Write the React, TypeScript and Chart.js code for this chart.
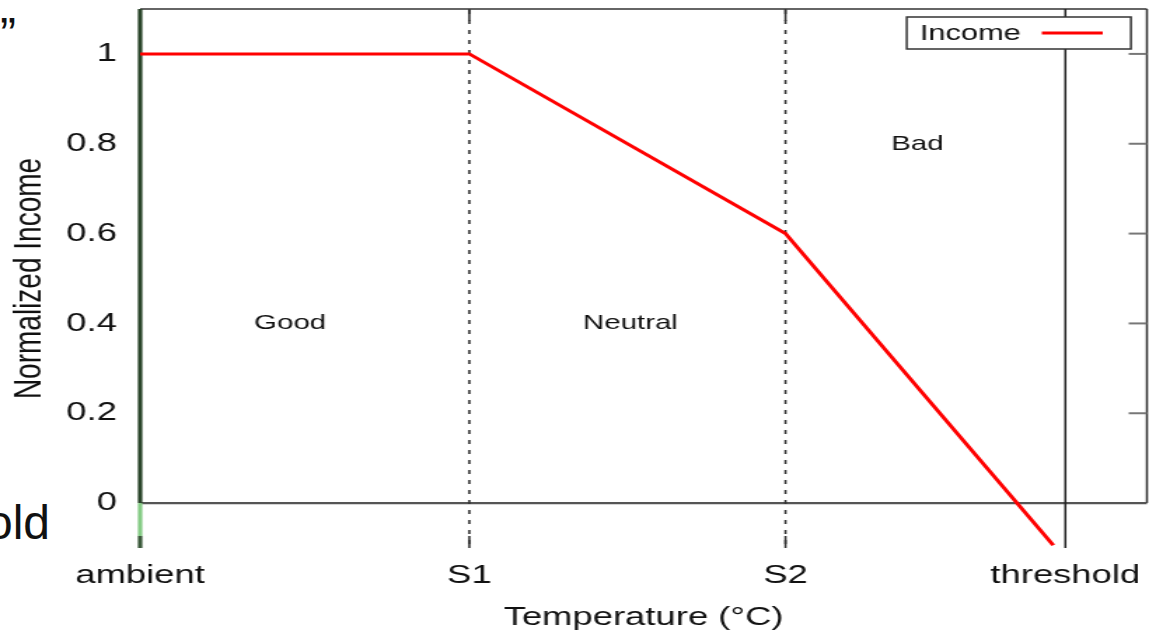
import React, { useEffect, useRef } from 'react';
import { Chart, registerables } from 'chart.js';

Chart.register(...registerables);

// Temperature zones along the x axis (relative units, ambient = 0)
const ZONE_NAMES = ['ambient', 'S1', 'S2', 'threshold'];
const ZONE_TEMPS = [0, 32.7, 64.1, 91.9];
const TEMP_MIN = 0;
const TEMP_MAX = 100;

// Normalized income curve
const INCOME_TEMPS = [0, 32.7, 64.1, 90.7];
const INCOME_VALUES = [1, 1, 0.6, -0.094];
const SERIES_LABEL = 'Income';

// Y axis
const INCOME_TICKS = [0, 0.2, 0.4, 0.6, 0.8, 1];
const INCOME_MIN = -0.1;
const INCOME_MAX = 1.1;

// Zone annotations
const REGION_NAMES = ['Good', 'Neutral', 'Bad'];
const REGION_TEMPS = [14.9, 48.7, 77.2];
const REGION_VALUES = [0.4, 0.4, 0.8];

const FONT = '"Liberation Sans", Arial, Helvetica, sans-serif';
const TEXT = '#111';

// The plot is rendered narrow and widened horizontally, giving the wide glyphs
const PAGE_W = 1149;
const PAGE_H = 633;
const CANVAS_W = 820;

function strokeLine(
  ctx: CanvasRenderingContext2D,
  x1: number, y1: number, x2: number, y2: number,
  color: string, width: number, dash: number[] = []
) {
  ctx.save();
  ctx.strokeStyle = color;
  ctx.lineWidth = width;
  ctx.setLineDash(dash);
  ctx.beginPath();
  ctx.moveTo(x1, y1);
  ctx.lineTo(x2, y2);
  ctx.stroke();
  ctx.restore();
}

const framePlugin = {
  id: 'gnuplotFrame',
  beforeDatasetsDraw(chart: any) {
    const { ctx, chartArea: a, scales } = chart;
    const x = scales.x;
    const y = scales.y;
    const yTop = y.getPixelForValue(INCOME_MAX);
    const yZero = y.getPixelForValue(0);
    const yBottom = y.getPixelForValue(INCOME_MIN);
    const tickLen = 12;

    // border: top, right (down to the zero line) and the zero axis
    strokeLine(ctx, a.left, yTop, a.right, yTop, '#333', 1.6);
    strokeLine(ctx, a.right, yTop, a.right, yZero, '#333', 1.5);
    strokeLine(ctx, a.left, yZero, a.right, yZero, '#555', 2.2);

    // mirrored y ticks on the right border
    INCOME_TICKS.forEach((v) => {
      if (v === 0) return;
      const py = y.getPixelForValue(v);
      strokeLine(ctx, a.right - 13, py, a.right, py, '#777', 2);
    });

    // zone boundaries
    ZONE_TEMPS.forEach((t, i) => {
      const px = x.getPixelForValue(t);
      if (i === 0) {
        strokeLine(ctx, px, yTop, px, yZero, '#2a452a', 3.2);
        strokeLine(ctx, px, yZero, px, yBottom - tickLen, '#86cc86', 3.2);
        strokeLine(ctx, px, yBottom - tickLen, px, yBottom, '#3b5a3b', 3.2);
      } else if (i === ZONE_TEMPS.length - 1) {
        strokeLine(ctx, px, yTop, px, yBottom, '#222', 1.5);
      } else {
        strokeLine(ctx, px, yTop + 1, px, yBottom, '#333', 1.6, [4, 6]);
        strokeLine(ctx, px, yTop, px, yTop + tickLen, '#333', 1.6);
        strokeLine(ctx, px, yBottom - tickLen, px, yBottom, '#333', 1.6);
      }
    });
  },
  afterDatasetsDraw(chart: any) {
    const { ctx, chartArea: a, scales } = chart;
    const x = scales.x;
    const y = scales.y;

    // zone names
    ctx.save();
    ctx.fillStyle = TEXT;
    ctx.font = `21px ${FONT}`;
    ctx.textAlign = 'center';
    ctx.textBaseline = 'middle';
    REGION_NAMES.forEach((name, i) => {
      ctx.fillText(name, x.getPixelForValue(REGION_TEMPS[i]), y.getPixelForValue(REGION_VALUES[i]));
    });
    ctx.restore();

    // key box in the top-right corner
    const yTop = y.getPixelForValue(INCOME_MAX);
    const boxRight = a.right - 11.4;
    const boxLeft = boxRight - 160;
    const boxTop = yTop + 8;
    const boxH = 32;
    const midY = boxTop + boxH / 2;
    ctx.save();
    ctx.fillStyle = '#fff';
    ctx.fillRect(boxLeft, boxTop, boxRight - boxLeft, boxH);
    ctx.strokeStyle = '#333';
    ctx.lineWidth = 1.5;
    ctx.strokeRect(boxLeft, boxTop, boxRight - boxLeft, boxH);
    ctx.fillStyle = TEXT;
    ctx.font = `22px ${FONT}`;
    ctx.textAlign = 'left';
    ctx.textBaseline = 'middle';
    ctx.fillText(SERIES_LABEL, boxLeft + 9.3, midY + 1);
    ctx.restore();
    strokeLine(ctx, boxLeft + 96.4, midY, boxLeft + 139.9, midY, '#ff0000', 3);
  },
};

export default function App() {
  const canvasRef = useRef<HTMLCanvasElement>(null);

  useEffect(() => {
    const canvas = canvasRef.current;
    if (!canvas) return;
    const chart = new Chart(canvas, {
      type: 'line',
      data: {
        datasets: [
          {
            label: SERIES_LABEL,
            data: INCOME_TEMPS.map((t, i) => ({ x: t, y: INCOME_VALUES[i] })),
            borderColor: '#ff0000',
            borderWidth: 3,
            pointRadius: 0,
            pointHoverRadius: 0,
            tension: 0,
            fill: false,
            clip: false as any,
          },
        ],
      },
      options: {
        animation: false,
        responsive: true,
        maintainAspectRatio: false,
        devicePixelRatio: 1,
        events: [],
        layout: { padding: { top: 9, right: 1.4, bottom: 0, left: 0 } },
        plugins: {
          legend: { display: false },
          tooltip: { enabled: false },
        },
        scales: {
          x: {
            type: 'linear',
            min: TEMP_MIN,
            max: TEMP_MAX,
            grid: { display: false, drawTicks: false },
            border: { display: false },
            afterBuildTicks: (s: any) => {
              s.ticks = ZONE_TEMPS.map((v) => ({ value: v }));
            },
            afterFit: (s: any) => {
              s.height = 85;
              s.paddingLeft = 0;
              s.paddingRight = 0;
            },
            ticks: {
              autoSkip: false,
              maxRotation: 0,
              minRotation: 0,
              padding: 12.3,
              color: TEXT,
              font: { family: FONT, size: 26 },
              callback: (v: any) => ZONE_NAMES[ZONE_TEMPS.indexOf(Number(v))] ?? '',
            },
            title: {
              display: true,
              text: 'Temperature (°C)',
              color: TEXT,
              font: { family: FONT, size: 26 },
              padding: { top: 0, bottom: 0 },
            },
          },
          y: {
            type: 'linear',
            min: INCOME_MIN,
            max: INCOME_MAX,
            grid: { display: false, drawTicks: false },
            border: { display: false },
            afterBuildTicks: (s: any) => {
              s.ticks = INCOME_TICKS.map((v) => ({ value: v }));
            },
            afterFit: (s: any) => {
              s.width = 100;
              s.paddingTop = 0;
              s.paddingBottom = 0;
            },
            ticks: {
              padding: 16.5,
              color: TEXT,
              font: { family: FONT, size: 26 },
              callback: (v: any) => String(v),
            },
            title: {
              display: true,
              text: 'Normalized Income',
              color: TEXT,
              font: { family: FONT, size: 28 },
              padding: { top: 4.6, bottom: 0 },
            },
          },
        },
      },
      plugins: [framePlugin],
    });
    return () => chart.destroy();
  }, []);

  const sideText: React.CSSProperties = {
    position: 'fixed',
    fontFamily: FONT,
    fontSize: 48,
    lineHeight: '48px',
    color: '#111',
    whiteSpace: 'nowrap',
  };

  return (
    <>
      <div style={{ position: 'fixed', left: 0, top: 0, width: PAGE_W, height: PAGE_H, background: '#fff', overflow: 'hidden' }}>
        <span style={{ ...sideText, left: 0, top: 11 }}>”</span>
        <span style={{ ...sideText, left: -14, top: 499 }}>old</span>
      </div>
      <div
        style={{
          position: 'fixed',
          left: 0,
          top: 0,
          width: CANVAS_W,
          height: PAGE_H,
          transform: `scaleX(${PAGE_W / CANVAS_W})`,
          transformOrigin: '0 0',
        }}
      >
        <canvas ref={canvasRef} />
      </div>
    </>
  );
}
